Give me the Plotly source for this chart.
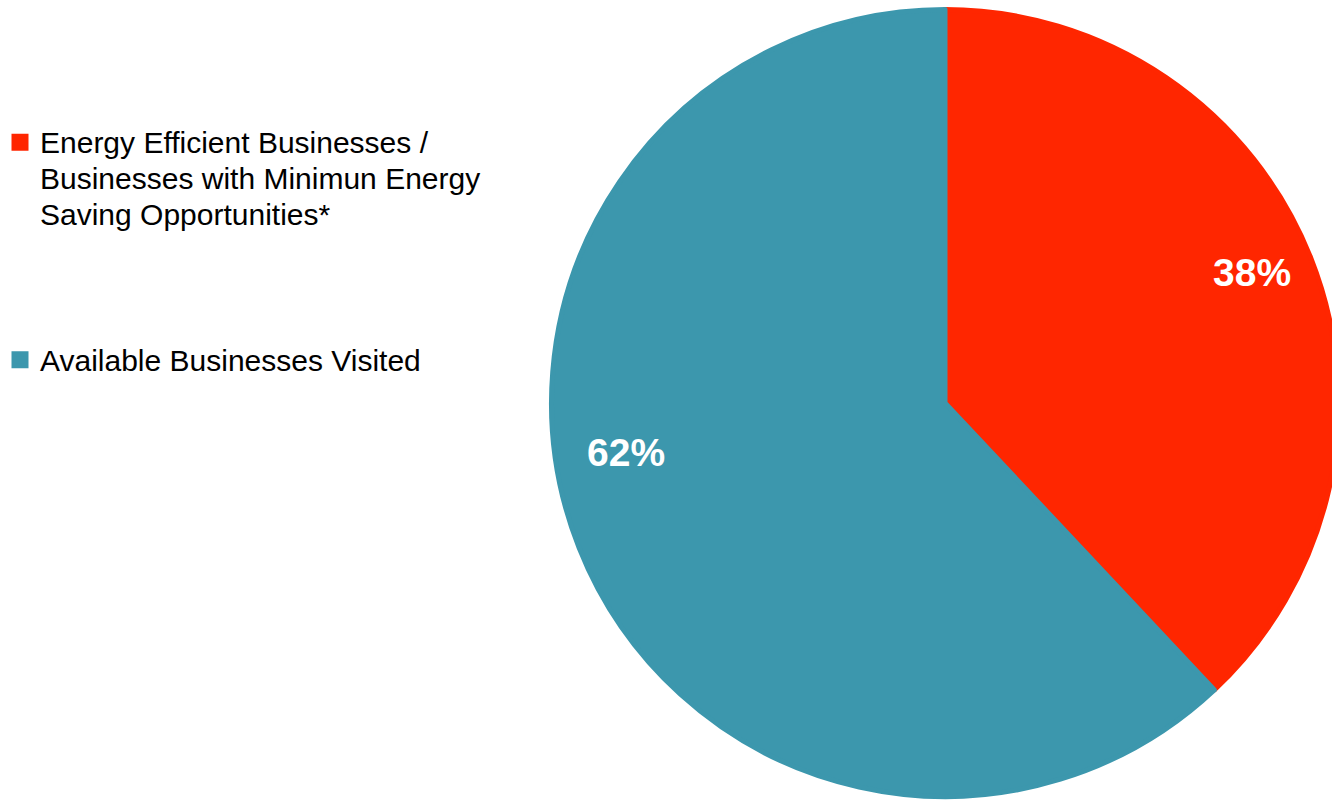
import plotly.graph_objects as go

# Share of businesses by energy-saving status
labels = [
    "Energy Efficient Businesses /<br>Businesses with Minimun Energy<br>Saving Opportunities*",
    "Available Businesses Visited",
]
values = [38, 62]
colors = ["#FF2600", "#3C97AD"]

# percentage label anchor points (paper coordinates)
label_x = [0.93294, 0.46684]
label_y = [0.6598, 0.43508]

FONT = "Liberation Sans, Arial, sans-serif"
W, H = 1342, 801


def legend_text(s):
    # slightly larger glyphs than the legend's base size, which sets the line pitch
    return "<br>".join(f'<span style="font-size:30px">{ln}</span>' for ln in s.split("<br>"))


# pad the first legend entry with blank lines to open the gap before the second
legend_labels = [legend_text(labels[0]) + "<br> <br> <br> ", legend_text(labels[1])]

fig = go.Figure(
    go.Pie(
        labels=legend_labels,
        values=values,
        sort=False,
        direction="clockwise",
        rotation=0,
        textinfo="none",
        hoverinfo="percent",
        marker=dict(colors=colors, line=dict(color=colors, width=[5, 5])),
        domain=dict(x=[551.5 / W, 1338.5 / W], y=[1 - 796.5 / H, 1 - 9.5 / H]),
    )
)

for v, x, y in zip(values, label_x, label_y):
    fig.add_annotation(
        x=x, y=y, xref="paper", yref="paper",
        text=f"<b>{v}%</b>", showarrow=False,
        xanchor="center", yanchor="middle",
        font=dict(family=FONT, size=39, color="white"),
    )

fig.update_layout(
    width=W,
    height=H,
    margin=dict(l=0, r=0, t=0, b=0),
    paper_bgcolor="white",
    plot_bgcolor="white",
    font=dict(family=FONT, color="black"),
    legend=dict(
        x=0, y=1 - 117.9 / H, xanchor="left", yanchor="top",
        valign="top",
        font=dict(family=FONT, size=27.5, color="black"),
        bgcolor="rgba(0,0,0,0)", borderwidth=0,
        traceorder="normal",
    ),
)

fig.write_html(
    "out.html",
    post_script="document.body.style.margin='0';document.body.style.overflow='hidden';",
)
